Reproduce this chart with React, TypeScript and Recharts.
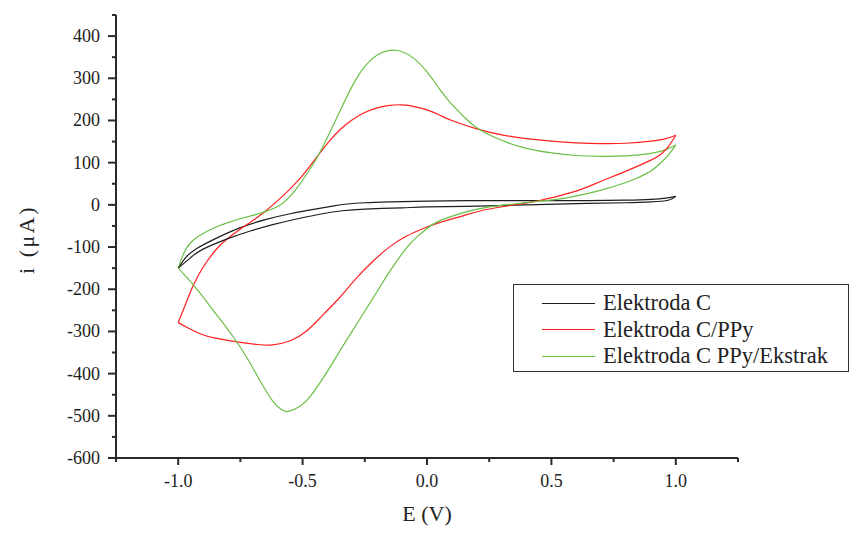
import React from 'react';
import { LineChart, Line, XAxis, YAxis, Legend, Label } from 'recharts';

// Axis ticks (major + minor)
const xTicks = [-1.25, -1, -0.75, -0.5, -0.25, 0, 0.25, 0.5, 0.75, 1, 1.25];
const yTicks = [-600, -550, -500, -450, -400, -350, -300, -250, -200, -150, -100, -50, 0, 50, 100, 150, 200, 250, 300, 350, 400, 450];

const seriesNames = ['Elektroda C', 'Elektroda C/PPy', 'Elektroda C PPy/Ekstrak'];
const seriesColors = ['#1e1e1e', '#ff2020', '#6abf45'];

// Elektroda C  [E (V), i (µA)]
const cForward: [number, number][] = [
  [-1, -150], [-0.97, -125], [-0.93, -105], [-0.85, -80], [-0.75, -54], [-0.65, -35], [-0.55, -21],
  [-0.45, -10], [-0.38, -3], [-0.32, 2], [-0.25, 5], [-0.15, 7], [0, 9], [0.2, 10], [0.4, 10],
  [0.6, 10], [0.8, 11], [0.9, 13], [0.96, 16], [1.0, 20],
];
const cReverse: [number, number][] = [
  [-1, -150], [-0.95, -125], [-0.9, -105], [-0.8, -80], [-0.71, -62], [-0.62, -47], [-0.52, -33],
  [-0.42, -21], [-0.34, -14], [-0.25, -10], [-0.1, -7], [0, -5], [0.2, -3], [0.4, 0], [0.6, 3],
  [0.8, 5], [0.9, 7], [0.97, 11], [1.0, 20],
];

// Elektroda C/PPy
const ppyForward: [number, number][] = [
  [-1, -279], [-0.97, -235], [-0.94, -192], [-0.9, -148], [-0.845, -104], [-0.8, -79], [-0.75, -57],
  [-0.7, -37], [-0.65, -15], [-0.6, 10], [-0.55, 38], [-0.5, 70], [-0.45, 108], [-0.4, 146],
  [-0.35, 178], [-0.3, 202], [-0.25, 219], [-0.2, 230], [-0.15, 236], [-0.1, 237], [-0.05, 233],
  [0, 225], [0.05, 213], [0.1, 200], [0.2, 180], [0.3, 166], [0.4, 157], [0.5, 151],
  [0.6, 147], [0.7, 145], [0.8, 146], [0.9, 151], [0.96, 157], [1.0, 165],
];
const ppyReverse: [number, number][] = [
  [-1, -279], [-0.96, -292], [-0.91, -306], [-0.85, -316], [-0.75, -326], [-0.68, -331],
  [-0.62, -332], [-0.55, -322], [-0.484, -299], [-0.417, -260], [-0.35, -219], [-0.283, -173],
  [-0.216, -133], [-0.149, -99], [-0.082, -74], [-0.015, -56], [0.05, -42], [0.15, -25], [0.24, -11],
  [0.35, 0], [0.44, 9], [0.535, 22], [0.616, 36], [0.7, 56], [0.8, 80], [0.9, 106], [0.94, 120],
  [0.97, 138], [1.0, 165],
];

// Elektroda C PPy/Ekstrak
const ekstrakForward: [number, number][] = [
  [-1, -150], [-0.985, -125], [-0.967, -103], [-0.94, -84], [-0.9, -68], [-0.85, -53],
  [-0.8, -42], [-0.75, -33], [-0.7, -25], [-0.65, -16], [-0.6, -4], [-0.56, 14], [-0.52, 42],
  [-0.48, 76], [-0.44, 114], [-0.4, 160], [-0.35, 222], [-0.3, 282], [-0.25, 328], [-0.2, 355],
  [-0.15, 366], [-0.1, 363], [-0.05, 346], [0, 315], [0.05, 275], [0.1, 238], [0.15, 208],
  [0.2, 183], [0.3, 153], [0.4, 134], [0.5, 123], [0.6, 117], [0.7, 115],
  [0.8, 116], [0.9, 122], [0.96, 131], [1.0, 142],
];
const ekstrakReverse: [number, number][] = [
  [-1, -150], [-0.93, -196], [-0.85, -257], [-0.78, -312], [-0.72, -366], [-0.67, -418],
  [-0.62, -465], [-0.59, -483], [-0.565, -490], [-0.53, -484], [-0.484, -464], [-0.417, -410],
  [-0.35, -346], [-0.283, -283], [-0.216, -220], [-0.149, -157], [-0.082, -102], [-0.04, -76],
  [0, -56], [0.05, -38], [0.15, -18], [0.24, -6], [0.35, 2], [0.44, 8], [0.535, 14], [0.616, 23],
  [0.7, 35], [0.8, 53], [0.85, 65], [0.9, 80], [0.94, 100], [0.97, 118], [1.0, 142],
];

const toPoints = (pairs: [number, number][]) => pairs.map(([E, i]) => ({ E, i }));

const FONT = '"Liberation Serif", "Times New Roman", serif';
const AXIS_COLOR = '#2a2a2a';

const isMajorX = (v: number) => Math.abs(v * 2 - Math.round(v * 2)) < 1e-6;
const isMajorY = (v: number) => Math.abs(v / 100 - Math.round(v / 100)) < 1e-6;

const XTick = (props: any) => {
  const { x, y, payload } = props;
  const v = payload.value as number;
  const major = isMajorX(v);
  return (
    <g>
      <line x1={x} y1={y} x2={x} y2={y + (major ? 7 : 4)} stroke={AXIS_COLOR} strokeWidth={2} />
      {major && (
        <text x={x} y={y + 29} textAnchor="middle" fontSize={18} fontFamily={FONT} fill="#222">
          {v.toFixed(1)}
        </text>
      )}
    </g>
  );
};

const YTick = (props: any) => {
  const { x, y, payload } = props;
  const v = payload.value as number;
  const major = isMajorY(v);
  return (
    <g>
      <line x1={x} y1={y} x2={x - (major ? 8 : 4)} y2={y} stroke={AXIS_COLOR} strokeWidth={2} />
      {major && (
        <text x={x - 16} y={y + 6} textAnchor="end" fontSize={18} fontFamily={FONT} fill="#222">
          {String(v)}
        </text>
      )}
    </g>
  );
};

const LegendBox = (props: any) => {
  const items = (props.payload || [])
    .filter((p: any) => p.type !== 'none' && seriesNames.includes(p.value))
    .sort((a: any, b: any) => seriesNames.indexOf(a.value) - seriesNames.indexOf(b.value));
  return (
    <div
      style={{
        boxSizing: 'border-box',
        width: '100%',
        height: '100%',
        border: '1px solid #333',
        paddingTop: 5,
        background: '#fff',
      }}
    >
      {items.map((p: any) => (
        <div key={p.value} style={{ display: 'flex', alignItems: 'center', height: 26.5 }}>
          <div style={{ width: 53, marginLeft: 28, marginRight: 8, borderTop: `1.3px solid ${p.color}` }} />
          <span style={{ fontFamily: FONT, fontSize: 22.5, color: '#222', whiteSpace: 'nowrap' }}>{p.value}</span>
        </div>
      ))}
    </div>
  );
};

export default function App() {
  const sw = 1.2;
  const curve = 'natural' as const;
  return (
    <div style={{ position: 'absolute', left: 0, top: 0, background: '#fff' }}>
      <LineChart width={858} height={539} margin={{ top: 15, right: 120, bottom: 0, left: 0 }}>
        <XAxis
          dataKey="E"
          type="number"
          domain={[-1.25, 1.25]}
          ticks={xTicks}
          interval={0}
          allowDataOverflow
          tickLine={false}
          tickSize={0}
          tickMargin={0}
          tick={<XTick />}
          height={81}
          axisLine={{ stroke: AXIS_COLOR, strokeWidth: 2 }}
        >
          <Label
            value="E (V)"
            position="center"
            dy={15}
            style={{ fontFamily: FONT, fontSize: 22, fill: '#222' }}
          />
        </XAxis>
        <YAxis
          dataKey="i"
          type="number"
          domain={[-600, 450]}
          ticks={yTicks}
          interval={0}
          allowDataOverflow
          tickLine={false}
          tickSize={0}
          tickMargin={0}
          tick={<YTick />}
          width={116}
          axisLine={{ stroke: AXIS_COLOR, strokeWidth: 2 }}
        >
          <Label
            value="i (μA)"
            position="center"
            angle={-90}
            dx={-32}
            dy={3}
            style={{ fontFamily: FONT, fontSize: 22, fill: '#222', letterSpacing: 2.5 }}
          />
        </YAxis>
        <Legend
          layout="vertical"
          align="center"
          verticalAlign="middle"
          wrapperStyle={{ left: 513, top: 284, width: 336, height: 88 }}
          content={<LegendBox />}
        />
        <Line data={toPoints(cForward)} dataKey="i" name={seriesNames[0]} stroke={seriesColors[0]} strokeWidth={sw} dot={false} type={curve} isAnimationActive={false} />
        <Line data={toPoints(ppyForward)} dataKey="i" name={seriesNames[1]} stroke={seriesColors[1]} strokeWidth={sw} dot={false} type={curve} isAnimationActive={false} />
        <Line data={toPoints(ekstrakForward)} dataKey="i" name={seriesNames[2]} stroke={seriesColors[2]} strokeWidth={sw} dot={false} type={curve} isAnimationActive={false} />
        <Line data={toPoints(cReverse)} dataKey="i" name={seriesNames[0] + ' (reverse)'} legendType="none" stroke={seriesColors[0]} strokeWidth={sw} dot={false} type={curve} isAnimationActive={false} />
        <Line data={toPoints(ppyReverse)} dataKey="i" name={seriesNames[1] + ' (reverse)'} legendType="none" stroke={seriesColors[1]} strokeWidth={sw} dot={false} type={curve} isAnimationActive={false} />
        <Line data={toPoints(ekstrakReverse)} dataKey="i" name={seriesNames[2] + ' (reverse)'} legendType="none" stroke={seriesColors[2]} strokeWidth={sw} dot={false} type={curve} isAnimationActive={false} />
      </LineChart>
    </div>
  );
}
